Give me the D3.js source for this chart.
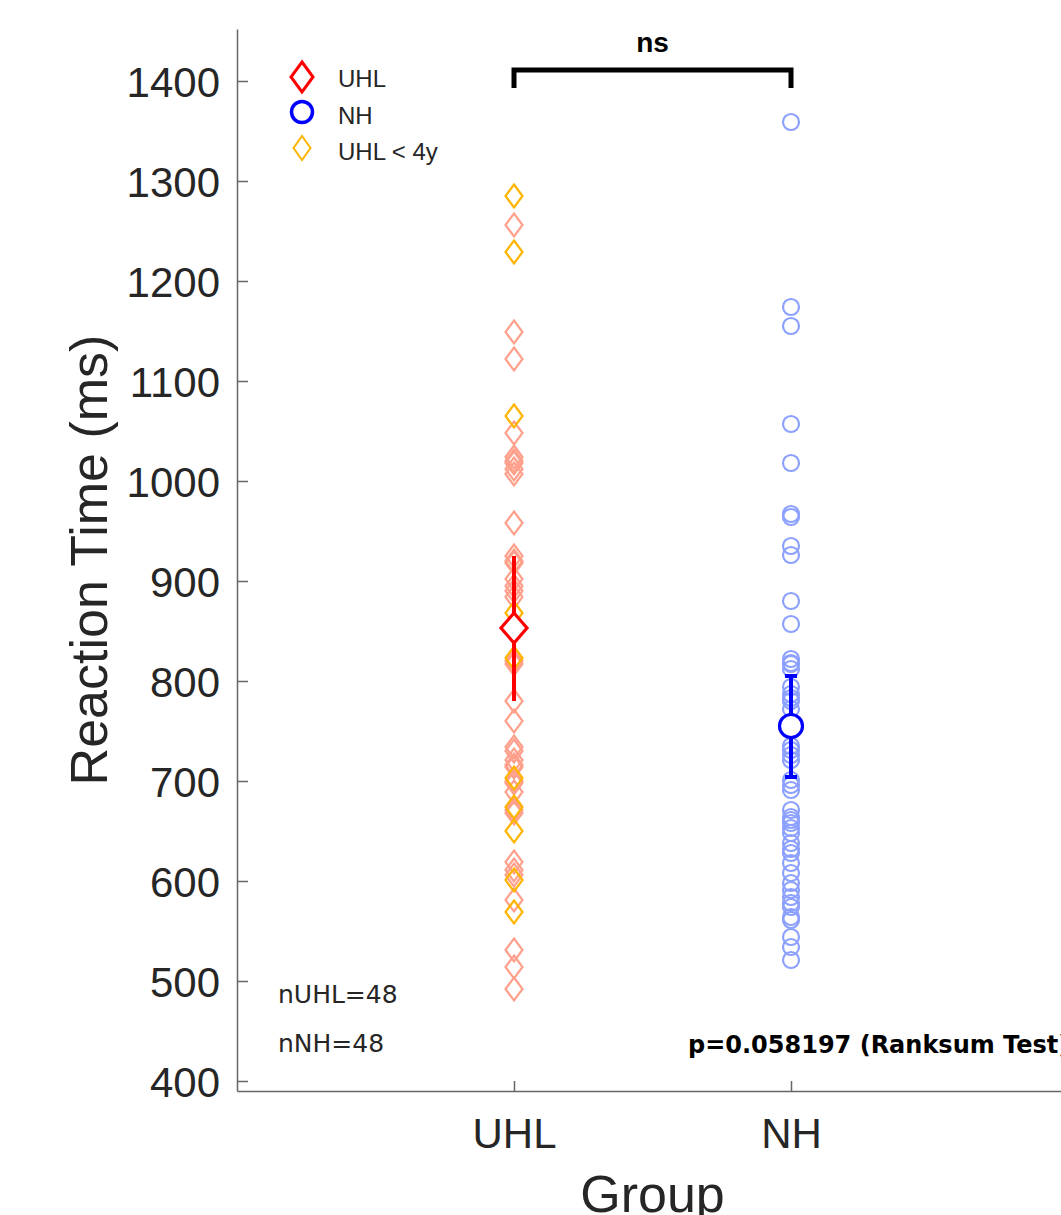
<!DOCTYPE html>
<html>
<head>
<meta charset="utf-8">
<script src="https://cdn.jsdelivr.net/npm/d3@7"></script>
<style>
  body { margin: 0; background: #fff; }
  svg { display: block; }
</style>
</head>
<body>
<svg id="chart"></svg>
<script>
// group names on the x axis
var groups = ["UHL", "NH"];

// reaction times (ms)
var uhlOlderRT = [1256, 1149, 1122, 1048, 1024, 1020, 1018, 1012, 1007, 958,
                  925, 920, 918, 902, 895, 890, 884, 820, 817, 780,
                  760, 734, 730, 721, 716, 714, 700, 698, 689, 671,
                  668, 619, 611, 606, 581, 531, 514, 492];
var uhlYoungRT = [1285, 1229, 1065, 868, 823, 703, 674, 650, 601, 569];
var nhRT = [1359, 1174, 1155, 1057, 1018, 967, 964, 935, 926, 880,
            857, 822, 818, 817, 812, 794, 787, 783, 780, 772,
            735, 731, 726, 721, 701, 696, 691, 671, 664, 661,
            658, 653, 648, 638, 632, 628, 618, 608, 598, 591,
            584, 578, 574, 564, 561, 544, 534, 521];

// group means and error bar ends
var groupMeans = [853, 755];
var errLow = [780, 704];
var errHigh = [925, 805];

var yTicks = [400, 500, 600, 700, 800, 900, 1000, 1100, 1200, 1300, 1400];
var groupCounts = ["nUHL=48", "nNH=48"];
var pText = "p=0.058197 (Ranksum Test)";
var sigText = "ns";

var width = 1061, height = 1215;
var axisColor = "#666666";
var textColor = "#262626";

var svg = d3.select("#chart")
  .attr("width", width)
  .attr("height", height);

svg.append("rect").attr("width", width).attr("height", height).attr("fill", "#fff");

// scales
var xScale = d3.scaleLinear().domain([0, 3]).range([237, 1068]);
var yScale = d3.scaleLinear().domain([390, 1452]).range([1091, 29]);

// y axis, ticks pointing inward like matlab
var yAxis = d3.axisLeft(yScale)
  .tickValues(yTicks)
  .tickFormat(d3.format("d"))
  .tickSizeInner(-11)
  .tickSizeOuter(0)
  .tickPadding(17);

var gy = svg.append("g")
  .attr("transform", "translate(" + xScale(0) + ",0)")
  .call(yAxis);
gy.select(".domain").attr("stroke", axisColor).attr("stroke-width", 1.5);
gy.selectAll(".tick line").attr("stroke", axisColor).attr("stroke-width", 1.5);
gy.selectAll(".tick text")
  .attr("fill", textColor)
  .attr("font-family", "'Liberation Sans', Arial, sans-serif")
  .attr("font-size", 42)
  .attr("dy", "0.36em");

// x axis
var xAxis = d3.axisBottom(xScale)
  .tickValues([1, 2])
  .tickFormat(function (d) { return groups[d - 1]; })
  .tickSizeInner(-10)
  .tickSizeOuter(0)
  .tickPadding(27);

var gx = svg.append("g")
  .attr("transform", "translate(0," + yScale(390) + ")")
  .call(xAxis);
gx.select(".domain").attr("stroke", axisColor).attr("stroke-width", 1.5);
gx.selectAll(".tick line").attr("stroke", axisColor).attr("stroke-width", 1.5);
gx.selectAll(".tick text")
  .attr("fill", textColor)
  .attr("font-family", "'Liberation Sans', Arial, sans-serif")
  .attr("font-size", 42);

// axis titles
svg.append("text")
  .attr("transform", "translate(107,560) rotate(-90)")
  .attr("text-anchor", "middle")
  .attr("font-family", "'Liberation Sans', Arial, sans-serif")
  .attr("font-size", 52)
  .attr("fill", textColor)
  .text("Reaction Time (ms)");

svg.append("text")
  .attr("x", xScale(1.5))
  .attr("y", 1212)
  .attr("text-anchor", "middle")
  .attr("font-family", "'Liberation Sans', Arial, sans-serif")
  .attr("font-size", 52)
  .attr("fill", textColor)
  .text("Group");

// diamond path centred on 0,0
function diamond(w, h) {
  return "M0," + (-h / 2) + "L" + (w / 2) + ",0L0," + (h / 2) + "L" + (-w / 2) + ",0Z";
}

// UHL points: older first, younger on top
svg.append("g").selectAll("path")
  .data(uhlOlderRT)
  .enter()
  .append("path")
  .attr("d", diamond(17, 23))
  .attr("transform", function (d) { return "translate(" + xScale(1) + "," + yScale(d) + ")"; })
  .attr("fill", "none")
  .attr("stroke", "#ffa08c")
  .attr("stroke-width", 2.2);

svg.append("g").selectAll("path")
  .data(uhlYoungRT)
  .enter()
  .append("path")
  .attr("d", diamond(17, 23))
  .attr("transform", function (d) { return "translate(" + xScale(1) + "," + yScale(d) + ")"; })
  .attr("fill", "none")
  .attr("stroke", "#ffb400")
  .attr("stroke-width", 2.2);

// NH points
svg.append("g").selectAll("circle")
  .data(nhRT)
  .enter()
  .append("circle")
  .attr("cx", xScale(2))
  .attr("cy", function (d) { return yScale(d); })
  .attr("r", 8)
  .attr("fill", "none")
  .attr("stroke", "#8ca0ff")
  .attr("stroke-width", 2.2);

// error bars
var barColors = ["#ff0000", "#0000ff"];
var capWidth = [0, 12];
groupMeans.forEach(function (m, i) {
  var cx = xScale(i + 1);
  svg.append("line")
    .attr("x1", cx).attr("x2", cx)
    .attr("y1", yScale(errLow[i])).attr("y2", yScale(errHigh[i]))
    .attr("stroke", barColors[i]).attr("stroke-width", 4);
  if (capWidth[i] > 0) {
    [errLow[i], errHigh[i]].forEach(function (v) {
      svg.append("line")
        .attr("x1", cx - capWidth[i] / 2).attr("x2", cx + capWidth[i] / 2)
        .attr("y1", yScale(v)).attr("y2", yScale(v))
        .attr("stroke", barColors[i]).attr("stroke-width", 4);
    });
  }
});

// mean markers
svg.append("path")
  .attr("d", diamond(26, 30))
  .attr("transform", "translate(" + xScale(1) + "," + yScale(groupMeans[0]) + ")")
  .attr("fill", "#fff")
  .attr("stroke", "#ff0000")
  .attr("stroke-width", 3.2);

svg.append("circle")
  .attr("cx", xScale(2))
  .attr("cy", yScale(groupMeans[1]))
  .attr("r", 11.5)
  .attr("fill", "#fff")
  .attr("stroke", "#0000ff")
  .attr("stroke-width", 3.2);

// significance bracket
svg.append("path")
  .attr("d", "M" + xScale(1) + ",88V70H" + xScale(2) + "V88")
  .attr("fill", "none")
  .attr("stroke", "#000")
  .attr("stroke-width", 5);

svg.append("text")
  .attr("x", xScale(1.5))
  .attr("y", 52)
  .attr("text-anchor", "middle")
  .attr("font-family", "'Liberation Sans', Arial, sans-serif")
  .attr("font-weight", "bold")
  .attr("font-size", 28)
  .attr("fill", "#000")
  .text(sigText);

// legend
var legend = svg.append("g");
legend.append("path")
  .attr("d", diamond(22, 30))
  .attr("transform", "translate(302,77)")
  .attr("fill", "none").attr("stroke", "#ff0000").attr("stroke-width", 3);
legend.append("circle")
  .attr("cx", 302).attr("cy", 112).attr("r", 10.5)
  .attr("fill", "none").attr("stroke", "#0000ff").attr("stroke-width", 3.5);
legend.append("path")
  .attr("d", diamond(17, 24))
  .attr("transform", "translate(302,148)")
  .attr("fill", "none").attr("stroke", "#ffb400").attr("stroke-width", 2);

var legendLabels = ["UHL", "NH", "UHL < 4y"];
var legendBase = [87, 124, 160];
legend.selectAll("text")
  .data(legendLabels)
  .enter()
  .append("text")
  .attr("x", 338)
  .attr("y", function (d, i) { return legendBase[i]; })
  .attr("font-family", "'Liberation Sans', Arial, sans-serif")
  .attr("font-size", 24)
  .attr("fill", textColor)
  .text(function (d) { return d; });

// group counts
svg.selectAll(".count")
  .data(groupCounts)
  .enter()
  .append("text")
  .attr("class", "count")
  .attr("x", 278)
  .attr("y", function (d, i) { return 1003 + i * 49; })
  .attr("font-family", "'DejaVu Sans', sans-serif")
  .attr("font-size", 25)
  .attr("fill", textColor)
  .text(function (d) { return d; });

// p-value
svg.append("text")
  .attr("x", 688)
  .attr("y", 1053)
  .attr("font-family", "'DejaVu Sans', sans-serif")
  .attr("font-weight", "bold")
  .attr("font-size", 24)
  .attr("fill", "#000")
  .text(pText);
</script>
</body>
</html>
